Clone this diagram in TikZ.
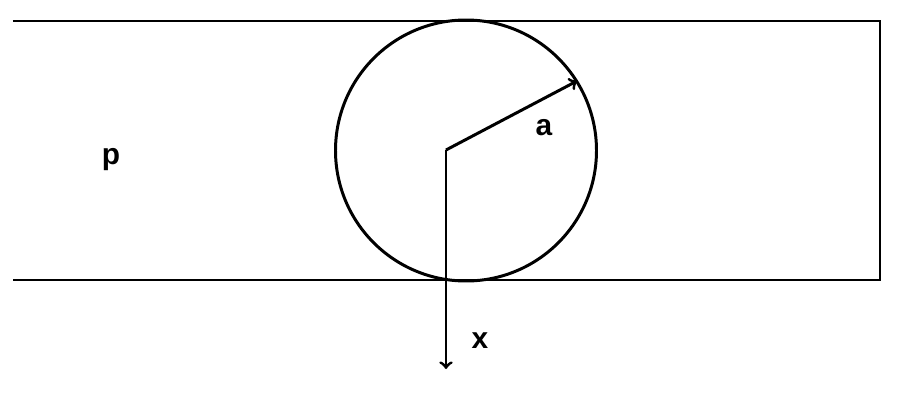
\documentclass[tikz,border=0pt]{standalone}
\usepackage{fontspec}
\setmainfont{Liberation Sans}
\usetikzlibrary{arrows}
\tikzset{ lbl/.style={ font=\fontsize{17}{20}\selectfont\bfseries } }

\begin{document}
\begin{tikzpicture}
	\useasboundingbox (0,0) rectangle (18,8.04);
	%\draw[thick,dotted] (0,0) rectangle (18,8.04);
	\coordinate (TL) at (0.26, 7.62);
	\coordinate (TR) at (17.6, 7.62);
	\coordinate (BR) at (17.6, 2.44);
	\coordinate (BL) at (0.26, 2.44);
	\draw [line width=0.6pt] (TL) -- (TR) -- (BR) -- (BL);

	\draw [line width=1.7pt] (9.32, 5.03) circle(2.61);
	\coordinate (O) at (8.92, 5.04);
	\coordinate (A) at (11.54, 6.42);
	\coordinate (X) at (8.92, 0.66);

	\draw [line width=1.7pt,-{to[scale=1.3]}] (O) -- (A);
	\draw [line width=1.7pt,-{to[scale=1.3]}] (O) -- (X);

	\node at (10.88, 5.48) [lbl] (a) {a};
	\node at (2.22, 4.84) [lbl] (p) {p};
	\node at (9.6, 1.22) [lbl] (x) {x};
\end{tikzpicture}
\end{document}
